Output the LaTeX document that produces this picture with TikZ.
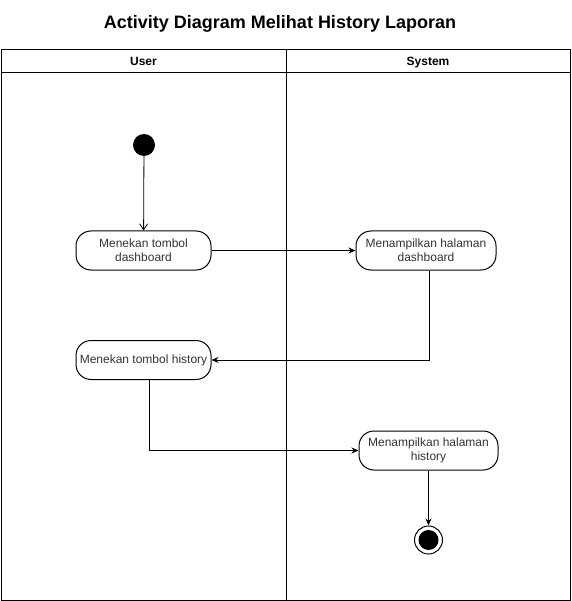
\documentclass[tikz,border=0pt]{standalone}
\usepackage{fontspec}
\setmainfont{Liberation Sans}
\usetikzlibrary{arrows.meta,positioning,calc}
\definecolor{ink}{HTML}{000000}
\tikzset{
  act/.style={draw=ink,line width=1pt,rounded corners=15pt,minimum width=135pt,minimum height=39pt,align=center,font=\fontsize{12}{14}\selectfont,text=ink!80,inner sep=2pt},
  flow/.style={draw=ink,line width=1pt,-{Stealth[length=7pt,width=6pt]}},
  lanehead/.style={font=\fontsize{12}{14}\selectfont\bfseries,anchor=base}
}
\begin{document}
\begin{tikzpicture}[x=1pt,y=-1pt]
\useasboundingbox (0,0) rectangle (571,601);
\node[font=\fontsize{18}{21}\selectfont\bfseries] (title) at (280,24){Activity Diagram Melihat History Laporan};
% pool and lanes
\draw[ink,line width=1pt] (1,50) rectangle (570,600);\draw[ink,line width=1pt] (1,73)--(570,73);\draw[ink,line width=1pt] (286,50)--(286,600);
\node[lanehead] (user) at (143.5,66){User};\node[lanehead] (system) at (428,66){System};
% activities
\node[circle,fill=ink,minimum size=22pt,inner sep=0pt] (start) at (144,145){};
\node[act] (tekandash) at (143.5,250.5){Menekan tombol\\dashboard};
\node[act,minimum width=140pt] (tampildash) at (426,250.5){Menampilkan halaman\\dashboard};
\node[act] (tekanhist) at (143.5,360){Menekan tombol history};
\node[act,minimum width=139pt] (tampilhist) at (428.5,450.5){Menampilkan halaman\\history};
\node[circle,draw=ink,line width=1pt,minimum size=28pt,inner sep=0pt] (finish) at (428.5,540){};
\node[circle,fill=ink,minimum size=20pt,inner sep=0pt] at (finish){};
% flows
\draw[ink,line width=0.8pt,-{Straight Barb[length=6pt,width=8pt]}] (start)--(tekandash);
\draw[flow] (tekandash)--(tampildash);
\draw[flow] (tampildash.south-|429,0)|-(tekanhist.east);
\draw[flow] (tekanhist.south-|149,0)|-(tampilhist.west);
\draw[flow] (tampilhist)--(finish);
\end{tikzpicture}
\end{document}
